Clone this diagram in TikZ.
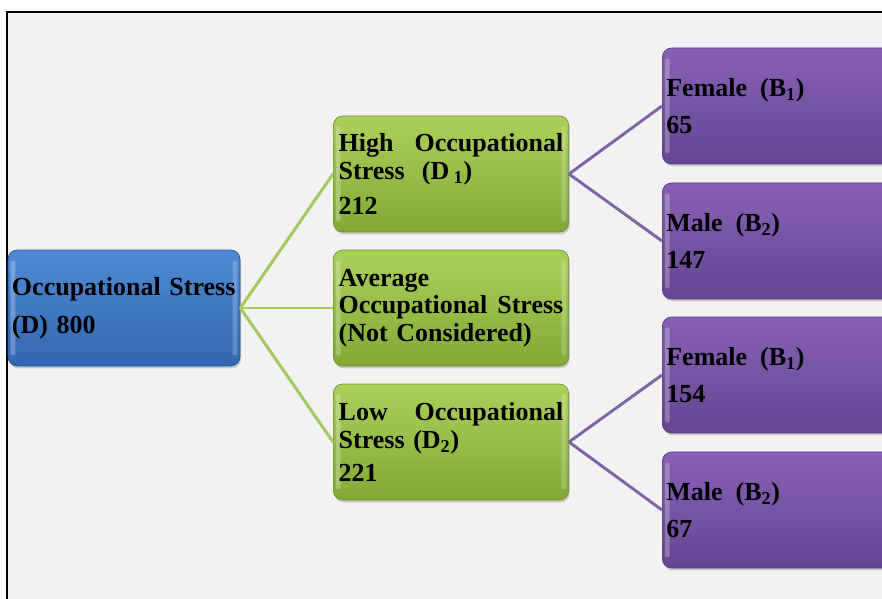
\documentclass[tikz,border=0pt]{standalone}
\usepackage{fontspec}
\setmainfont{Liberation Serif}
\usetikzlibrary{shadows}
\definecolor{pageGray}{RGB}{242,242,242}
\definecolor{rootTop}{RGB}{80,138,212}
\definecolor{rootBot}{RGB}{50,102,176}
\definecolor{stressTop}{RGB}{170,208,90}
\definecolor{stressBot}{RGB}{128,170,52}
\definecolor{genderTop}{RGB}{136,96,182}
\definecolor{genderBot}{RGB}{100,70,146}
\definecolor{stressLine}{RGB}{163,200,92}
\definecolor{genderLine}{RGB}{128,100,168}
\tikzset{
    box/.style={
        rectangle,
        rounded corners=7pt,
        inner xsep=3pt,
        inner ysep=0pt,
        minimum height=87pt,
        align=left,
        line width=0.5pt,
        font=\bfseries\fontsize{19.5}{20.6}\selectfont,
        drop shadow={shadow xshift=0.8pt, shadow yshift=-1.8pt, opacity=0.35},
        path picture={
            \fill[white,opacity=0.25,rounded corners=1pt]
              ([shift={(2pt,-8pt)}]path picture bounding box.north west) rectangle
              ([shift={(5.5pt,8pt)}]path picture bounding box.south west);
            \fill[white,opacity=0.2,rounded corners=1pt]
              ([shift={(-2pt,-8pt)}]path picture bounding box.north east) rectangle
              ([shift={(-5.5pt,8pt)}]path picture bounding box.south east);
        }
    },
    rootbox/.style={
        box,
        top color=rootTop,
        bottom color=rootBot,
        draw=rootBot!85!black,
        text width=168pt
    },
    stressbox/.style={
        box,
        inner xsep=4pt,
        top color=stressTop,
        bottom color=stressBot,
        draw=stressBot!85!black,
        text width=168.5pt
    },
    genderbox/.style={
        box,
        anchor=west,
        top color=genderTop,
        bottom color=genderBot,
        draw=genderBot!85!black,
        text width=174pt
    },
    stressedge/.style={
        draw=stressLine,
        line width=2.2pt
    },
    genderedge/.style={
        draw=genderLine,
        line width=2.2pt
    }
}

\begin{document}
\begin{tikzpicture}[x=0.75pt,y=-0.75pt]
\useasboundingbox (0,0) rectangle (882,599);
\clip (0,0) rectangle (882,599);
\fill[pageGray] (7,12) rectangle (900,620);
\draw[line width=1.6pt] (7,620) -- (7,12) -- (900,12);

\node[rootbox] (stress) at (124,308) {Occupational Stress\\[8pt](D) 800};

\node[stressbox] (high) at (451,174) {\makebox[\linewidth][l]{High\hfill Occupational}\\Stress~~(D\,\textsubscript{1})\\[6pt]212};
\node[stressbox] (avg) at (451,308) {Average\\\makebox[\linewidth][l]{Occupational\hfill Stress}\\(Not Considered)};
\node[stressbox] (low) at (451,442) {\makebox[\linewidth][l]{Low\hfill Occupational}\\Stress (D\textsubscript{2})\\[4pt]221};

\node[genderbox] (f1) at (662,106) {Female~\,(B\textsubscript{1})\\[7pt]65};
\node[genderbox] (m1) at (662,241) {Male~\,(B\textsubscript{2})\\[7pt]147};
\node[genderbox] (f2) at (662,375) {Female~\,(B\textsubscript{1})\\[7pt]154};
\node[genderbox] (m2) at (662,510) {Male~\,(B\textsubscript{2})\\[7pt]67};

\path[stressedge]
  (stress.east) edge (high.west)
  (stress.east) edge (avg.west)
  (stress.east) edge (low.west);
\path[genderedge]
  (high.east) edge (f1.west)
  (high.east) edge (m1.west)
  (low.east) edge (f2.west)
  (low.east) edge (m2.west);
\end{tikzpicture}
\end{document}
